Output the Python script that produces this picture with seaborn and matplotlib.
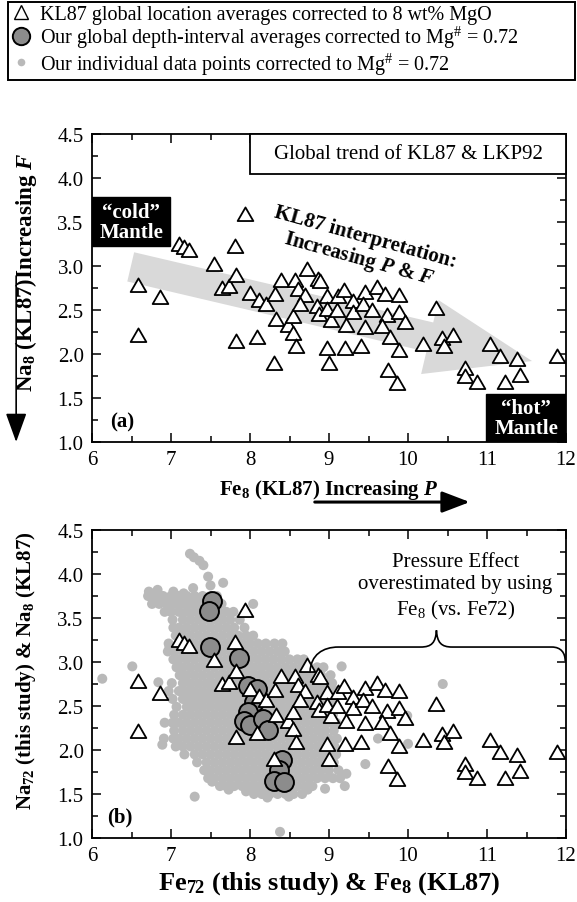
import matplotlib
matplotlib.use("Agg")
import numpy as np
import pandas as pd
import matplotlib.pyplot as plt
import seaborn as sns
from matplotlib.lines import Line2D
from matplotlib.patches import Rectangle, PathPatch
from matplotlib.path import Path
from matplotlib.ticker import MultipleLocator, FormatStrFormatter

# ---------------- data ----------------
# KL87 global location averages (Fe8, Na8)
kl87_fe8 = [6.58, 6.86, 6.58, 7.10, 7.17, 7.23, 7.55, 7.64, 7.73, 7.81, 7.82, 7.94, 7.82,
            8.00, 8.12, 8.20, 8.09, 8.30, 8.32, 8.39, 8.33, 8.48, 8.54, 8.54, 8.58, 8.57,
            8.61, 8.69, 8.63, 8.72, 8.86, 8.85, 8.87, 8.97, 8.97, 9.00, 8.89, 8.97, 9.03,
            9.12, 9.19, 9.10, 9.21, 9.31, 9.31, 9.45, 9.43, 9.46, 9.41, 9.20, 9.55, 9.61,
            9.71, 9.73, 9.67, 9.77, 9.88, 9.88, 9.96, 9.88, 9.75, 9.86, 10.36, 10.19, 10.43,
            10.45, 10.57, 10.72, 10.72, 10.87, 11.04, 11.16, 11.38, 11.42, 11.23, 11.89]
kl87_na8 = [2.76, 2.62, 2.19, 3.23, 3.19, 3.16, 3.00, 2.73, 2.75, 3.20, 2.87, 3.57, 2.12,
            2.67, 2.59, 2.54, 2.17, 1.87, 2.66, 2.82, 2.37, 2.31, 2.41, 2.22, 2.07, 2.82,
            2.72, 2.65, 2.54, 2.94, 2.83, 2.52, 2.43, 2.64, 2.04, 1.88, 2.81, 2.49, 2.36,
            2.64, 2.70, 2.48, 2.31, 2.58, 2.46, 2.68, 2.54, 2.28, 2.07, 2.04, 2.48, 2.74,
            2.66, 2.42, 2.30, 2.17, 2.65, 2.46, 2.34, 2.02, 1.79, 1.65, 2.50, 2.09, 2.16,
            2.07, 2.19, 1.82, 1.73, 1.66, 2.09, 1.96, 1.92, 1.74, 1.66, 1.96]

# our global depth-interval averages (Fe72, Na72)
avg_fe72 = [7.52, 7.48, 7.49, 7.86, 7.98, 8.09, 8.05, 7.98, 7.93, 8.00, 8.16, 8.23,
            8.41, 8.37, 8.31, 8.43]
avg_na72 = [3.69, 3.58, 3.17, 3.05, 2.73, 2.69, 2.55, 2.43, 2.33, 2.28, 2.35, 2.23,
            1.89, 1.77, 1.65, 1.64]

# our individual data points (read row by row from the dense cloud)
gray_row_na72 = [3.75, 3.66, 3.57, 3.48, 3.39, 3.30, 3.21, 3.12, 3.03, 2.94, 2.85, 2.76, 2.67,
                 2.58, 2.49, 2.40, 2.31, 2.22, 2.13, 2.04, 1.95, 1.86, 1.77, 1.68, 1.59, 1.50]
gray_row_fe72 = [
    [6.71, 6.80, 6.90, 7.00, 7.10, 7.20, 7.30, 7.40, 7.50, 7.58],
    [6.76, 6.85, 6.95, 7.05, 7.15, 7.25, 7.35, 7.45, 7.55, 7.64],
    [6.92, 7.00, 7.10, 7.20, 7.30, 7.40, 7.50, 7.60, 7.70, 7.79],
    [7.02, 7.15, 7.25, 7.35, 7.45, 7.55, 7.65, 7.75, 7.87],
    [7.03, 7.10, 7.20, 7.30, 7.40, 7.50, 7.60, 7.70, 7.80, 7.93],
    [7.06, 7.15, 7.25, 7.35, 7.45, 7.55, 7.65, 7.75, 7.85, 7.95, 8.04],
    [6.97, 7.10, 7.20, 7.30, 7.40, 7.50, 7.60, 7.70, 7.80, 7.90, 8.00, 8.10, 8.20, 8.31, 8.41],
    [6.96, 7.05, 7.15, 7.25, 7.35, 7.45, 7.55, 7.65, 7.75, 7.85, 7.95, 8.05, 8.15, 8.25, 8.35,
     8.44],
    [7.03, 7.10, 7.20, 7.30, 7.40, 7.50, 7.60, 7.70, 7.80, 7.90, 8.00, 8.10, 8.20, 8.30, 8.40,
     8.50, 8.60, 8.68],
    [7.07, 7.15, 7.25, 7.35, 7.45, 7.55, 7.65, 7.75, 7.85, 7.95, 8.05, 8.15, 8.25, 8.35, 8.45,
     8.55, 8.65, 8.75, 8.85, 8.93],
    [7.11, 7.20, 7.30, 7.40, 7.50, 7.60, 7.70, 7.80, 7.90, 8.00, 8.10, 8.20, 8.30, 8.40, 8.50,
     8.60, 8.70, 8.80, 8.90, 9.02],
    [7.01, 7.15, 7.25, 7.35, 7.45, 7.55, 7.65, 7.75, 7.85, 7.95, 8.05, 8.15, 8.25, 8.35, 8.45,
     8.55, 8.65, 8.75, 8.85, 8.95, 9.04],
    [6.97, 7.10, 7.20, 7.30, 7.40, 7.50, 7.60, 7.70, 7.80, 7.90, 8.00, 8.10, 8.20, 8.30, 8.40,
     8.50, 8.60, 8.70, 8.80, 8.90, 9.00, 9.09],
    [7.02, 7.15, 7.25, 7.35, 7.45, 7.55, 7.65, 7.75, 7.85, 7.95, 8.05, 8.15, 8.25, 8.35, 8.45,
     8.55, 8.65, 8.75, 8.85, 8.95, 9.06],
    [7.07, 7.20, 7.30, 7.40, 7.50, 7.60, 7.70, 7.80, 7.90, 8.00, 8.10, 8.20, 8.30, 8.40, 8.50,
     8.60, 8.70, 8.80, 8.90, 9.00, 9.08],
    [7.04, 7.15, 7.25, 7.35, 7.45, 7.55, 7.65, 7.75, 7.85, 7.95, 8.05, 8.15, 8.25, 8.35, 8.45,
     8.55, 8.65, 8.75, 8.85, 8.95, 9.05],
    [6.92, 7.02, 7.10, 7.20, 7.30, 7.40, 7.50, 7.60, 7.70, 7.80, 7.90, 8.00, 8.10, 8.20, 8.30,
     8.40, 8.50, 8.60, 8.70, 8.80, 8.90, 9.00, 9.09],
    [7.04, 7.15, 7.25, 7.35, 7.45, 7.55, 7.65, 7.75, 7.85, 7.95, 8.05, 8.15, 8.25, 8.35, 8.45,
     8.55, 8.65, 8.75, 8.85, 8.95, 9.06],
    [6.91, 7.03, 7.10, 7.20, 7.30, 7.40, 7.50, 7.60, 7.70, 7.80, 7.90, 8.00, 8.10, 8.20, 8.30,
     8.40, 8.50, 8.60, 8.70, 8.80, 8.90, 9.00, 9.10],
    [7.06, 7.15, 7.25, 7.35, 7.45, 7.55, 7.65, 7.75, 7.85, 7.95, 8.05, 8.15, 8.25, 8.35, 8.45,
     8.55, 8.65, 8.75, 8.85, 8.95, 9.07],
    [7.17, 7.30, 7.40, 7.50, 7.60, 7.70, 7.80, 7.90, 8.00, 8.10, 8.20, 8.30, 8.40, 8.50, 8.60,
     8.70, 8.80, 8.90, 9.00, 9.09],
    [7.33, 7.45, 7.55, 7.65, 7.75, 7.85, 7.95, 8.05, 8.15, 8.25, 8.35, 8.45, 8.55, 8.65, 8.75,
     8.85, 8.95, 9.06],
    [7.42, 7.50, 7.60, 7.70, 7.80, 7.90, 8.00, 8.10, 8.20, 8.30, 8.40, 8.50, 8.60, 8.70, 8.80,
     8.90, 9.00, 9.12],
    [7.47, 7.55, 7.65, 7.75, 7.85, 7.95, 8.05, 8.15, 8.25, 8.35, 8.45, 8.55, 8.65, 8.75, 8.85,
     8.95, 9.05, 9.14],
    [7.62, 7.70, 7.80, 7.90, 8.00, 8.10, 8.20, 8.30, 8.40, 8.50, 8.60, 8.70, 8.79],
    [8.05, 8.15, 8.25, 8.35, 8.45, 8.55, 8.66],
]
gray_extra_fe72 = [7.24, 7.29, 7.36, 7.41, 7.47, 7.50, 7.66, 8.04, 6.13, 6.51, 6.84, 6.89,
                   7.30, 8.38, 9.16, 10.44, 9.99, 9.62, 10.00, 9.46, 9.22, 9.20, 8.95, 10.74,
                   6.72, 6.83, 7.03, 7.16, 7.28, 7.95, 8.22, 8.49, 8.73, 7.52, 7.73, 6.98]
gray_extra_na72 = [4.23, 4.19, 4.15, 4.10, 3.97, 3.87, 3.90, 3.66, 2.81, 2.95, 2.77, 2.06,
                   1.47, 1.07, 2.95, 2.75, 2.39, 2.13, 2.07, 1.84, 1.73, 1.59, 1.56, 1.82,
                   3.80, 3.82, 3.80, 3.78, 3.84, 1.53, 1.46, 1.47, 1.55, 1.64, 1.55, 3.17]

legend_labels = ["KL87 global location averages corrected to 8 wt% MgO",
                 "Our global depth-interval averages corrected to Mg$^{\\#}$ = 0.72",
                 "Our individual data points corrected to Mg$^{\\#}$ = 0.72"]

# ---------------- style ----------------
sns.set_theme(style="ticks")
plt.rcParams.update({
    "font.family": ["Liberation Serif", "DejaVu Serif"],
    "mathtext.fontset": "custom",
    "mathtext.rm": "Liberation Serif",
    "mathtext.it": "Liberation Serif:italic:bold",
    "mathtext.bf": "Liberation Serif:bold",
    "mathtext.default": "regular",
    "axes.edgecolor": "black",
    "xtick.color": "black",
    "ytick.color": "black",
    "text.color": "black",
    "axes.labelcolor": "black",
})

FS = 15
TRI = Path([(0.0, 1.0), (-0.866, -0.5), (0.866, -0.5), (0.0, 1.0)],
           [Path.MOVETO, Path.LINETO, Path.LINETO, Path.CLOSEPOLY])
GRAY_DOT = "#b9b9b9"
GRAY_AVG = "#8c8c8c"

fig = plt.figure(figsize=(5.77, 9.03), dpi=100)
W, H = 577.0, 903.0
ax1 = fig.add_axes([92 / W, 1 - 443 / H, 474 / W, 308 / H])
ax2 = fig.add_axes([92 / W, 1 - 839 / H, 474 / W, 308 / H])


def style_axes(ax):
    ax.set_xlim(6, 12)
    ax.set_ylim(1.0, 4.5)
    ax.xaxis.set_major_locator(MultipleLocator(1))
    ax.xaxis.set_minor_locator(MultipleLocator(0.5))
    ax.yaxis.set_major_locator(MultipleLocator(0.5))
    ax.yaxis.set_minor_locator(MultipleLocator(0.25))
    ax.yaxis.set_major_formatter(FormatStrFormatter("%.1f"))
    ax.tick_params(which="both", direction="in", top=True, right=True, width=1.1,
                   labelsize=FS, pad=6, colors="black")
    ax.tick_params(which="major", length=6.5)
    ax.tick_params(which="minor", length=4.5)
    for s in ax.spines.values():
        s.set_linewidth(1.3)
        s.set_color("black")
        s.set_visible(True)


df_kl = pd.DataFrame({"fe": kl87_fe8, "na": kl87_na8})
df_avg = pd.DataFrame({"fe": avg_fe72, "na": avg_na72})
gx, gy = [], []
for yv, xs in zip(gray_row_na72, gray_row_fe72):
    gx.extend(xs)
    gy.extend([yv] * len(xs))
gx.extend(gray_extra_fe72)
gy.extend(gray_extra_na72)
df_gray = pd.DataFrame({"fe": gx, "na": gy})

# ---------------- panel (a) ----------------
style_axes(ax1)
ax1.annotate("", xy=(11.57, 1.92), xytext=(6.49, 2.99), xycoords="data",
             arrowprops=dict(arrowstyle="simple,head_length=7.56,head_width=5.47,tail_width=2.16",
                             mutation_scale=10, fc="#d9d9d9", ec="none", shrinkA=0, shrinkB=0),
             zorder=1)
sns.scatterplot(data=df_kl, x="fe", y="na", ax=ax1, marker=TRI, s=170, color="white",
                edgecolor="black", linewidth=1.3, zorder=3, legend=False)

ax1.add_patch(Rectangle((8.0, 4.05), 4.0, 0.45, fc="white", ec="black", lw=1.3, zorder=4,
                        clip_on=False))
ax1.text(10.0, 4.275, "Global trend of KL87 & LKP92", ha="center", va="center", fontsize=FS,
         zorder=5)
ax1.add_patch(Rectangle((6.0, 3.23), 0.99, 0.55, fc="black", ec="black", zorder=4))
ax1.text(6.495, 3.505, "\u201ccold\u201d\nMantle", ha="center", va="center", fontsize=FS,
         fontweight="bold", color="white", linespacing=1.0, zorder=5)
ax1.add_patch(Rectangle((10.99, 1.0), 1.01, 0.55, fc="black", ec="black", zorder=4))
ax1.text(11.495, 1.275, "\u201chot\u201d\nMantle", ha="center", va="center", fontsize=FS,
         fontweight="bold", color="white", linespacing=1.0, zorder=5)
ax1.text(9.42, 3.20, "KL87 interpretation:\nIncreasing $\\mathit{P}$ & $\\mathit{F}$",
         rotation=-15.5, rotation_mode="anchor", ha="center", va="center", fontsize=FS,
         fontweight="bold", linespacing=1.0, zorder=5)
ax1.text(6.38, 1.23, "(a)", ha="center", va="center", fontsize=FS, fontweight="bold")

ax1.set_xlabel("Fe$_8$ (KL87) Increasing $\\mathit{P}$", fontsize=FS, fontweight="bold")
ax1.xaxis.set_label_coords(0.5, -0.115)
ax1.set_ylabel("Na$_8$ (KL87)Increasing $\\mathit{F}$", fontsize=16.5, fontweight="bold")
ax1.yaxis.set_label_coords(-0.112, 0.553)
ax1.annotate("", xy=(0.797, -0.195), xytext=(0.470, -0.195), xycoords="axes fraction",
             textcoords="axes fraction", annotation_clip=False,
             arrowprops=dict(arrowstyle="-|>,head_length=1.7,head_width=0.65", mutation_scale=10,
                             lw=2.2, color="black", shrinkA=0, shrinkB=0))
ax1.annotate("", xy=(-0.160, 0.0), xytext=(-0.160, 0.539), xycoords="axes fraction",
             textcoords="axes fraction", annotation_clip=False,
             arrowprops=dict(arrowstyle="-|>,head_length=1.8,head_width=0.65", mutation_scale=10,
                             lw=1.2, color="black", shrinkA=0, shrinkB=0))

# ---------------- panel (b) ----------------
style_axes(ax2)
sns.scatterplot(data=df_gray, x="fe", y="na", ax=ax2, marker="o", s=52, color=GRAY_DOT,
                edgecolor="none", linewidth=0, zorder=1, legend=False)
sns.scatterplot(data=df_avg, x="fe", y="na", ax=ax2, marker="o", s=185, color=GRAY_AVG,
                edgecolor="black", linewidth=1.4, zorder=2, legend=False)
sns.scatterplot(data=df_kl, x="fe", y="na", ax=ax2, marker=TRI, s=170, color="white",
                edgecolor="black", linewidth=1.3, zorder=3, legend=False)

brace_verts = [(8.76, 2.89),
               (8.77, 3.08), (8.92, 3.17), (9.12, 3.17),
               (10.16, 3.17),
               (10.30, 3.17), (10.35, 3.22), (10.36, 3.36),
               (10.37, 3.22), (10.42, 3.17), (10.56, 3.17),
               (11.82, 3.17),
               (11.94, 3.17), (11.99, 3.10), (11.99, 3.01)]
brace_codes = [Path.MOVETO, Path.CURVE4, Path.CURVE4, Path.CURVE4, Path.LINETO,
               Path.CURVE4, Path.CURVE4, Path.CURVE4, Path.CURVE4, Path.CURVE4, Path.CURVE4,
               Path.LINETO, Path.CURVE4, Path.CURVE4, Path.CURVE4]
ax2.add_patch(PathPatch(Path(brace_verts, brace_codes), fc="none", ec="black", lw=1.2,
                        zorder=4, clip_on=False))
ax2.text(10.6, 3.86, "Pressure Effect\noverestimated by using\nFe$_8$ (vs. Fe72)", ha="center",
         va="center", fontsize=FS, linespacing=1.25, zorder=5)
ax2.text(6.35, 1.25, "(b)", ha="center", va="center", fontsize=FS, fontweight="bold")

ax2.set_xlabel("Fe$_{72}$ (this study) & Fe$_8$ (KL87)", fontsize=19, fontweight="bold")
ax2.xaxis.set_label_coords(0.5, -0.1)
ax2.set_ylabel("Na$_{72}$ (this study) & Na$_8$ (KL87)", fontsize=FS, fontweight="bold")
ax2.yaxis.set_label_coords(-0.114, 0.545)

# ---------------- legend ----------------
handles = [
    Line2D([0], [0], marker="^", ls="none", ms=10, mfc="white", mec="black", mew=1.0),
    Line2D([0], [0], marker="o", ls="none", ms=12.5, mfc=GRAY_AVG, mec="black", mew=1.4),
    Line2D([0], [0], marker="o", ls="none", ms=5.5, mfc=GRAY_DOT, mec="none"),
]
leg = fig.legend(handles, legend_labels, loc="upper left",
                 bbox_to_anchor=(8 / W, 1 - 65 / H, 567 / W, 62 / H),
                 bbox_transform=fig.transFigure, mode="expand", fontsize=14.5,
                 frameon=True, fancybox=False, framealpha=1, edgecolor="black",
                 borderpad=0.15, labelspacing=0.0, handlelength=1.0, handletextpad=0.45,
                 borderaxespad=0)
leg.get_frame().set_linewidth(1.4)

fig.savefig("out.png", dpi=100)
